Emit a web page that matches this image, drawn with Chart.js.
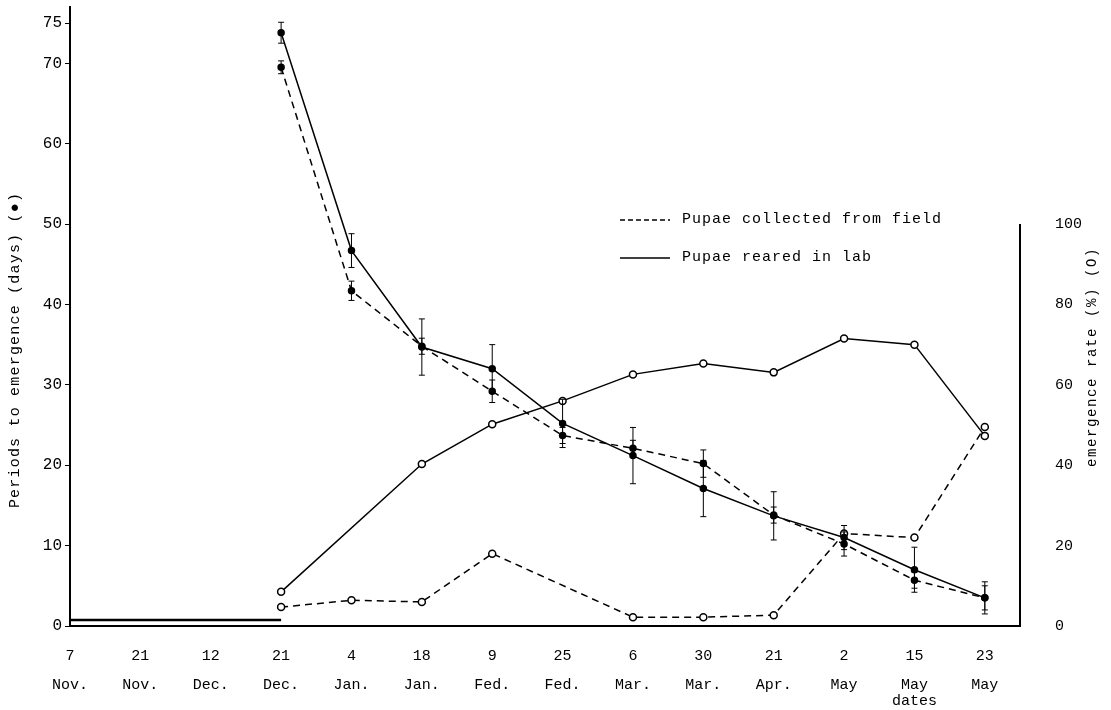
<!DOCTYPE html>
<html lang="en">
<head>
<meta charset="UTF-8">
<title>Periods to emergence</title>
<script src="https://cdn.jsdelivr.net/npm/chart.js"></script>
<style>
  html, body { margin: 0; padding: 0; background: #fff; }
  #wrap { width: 1111px; height: 710px; }
</style>
</head>
<body>
<div id="wrap"><canvas id="chart" width="1111" height="710"></canvas></div>
<script>
// x categories (sampling dates)
const dayLabels   = ['7', '21', '12', '21', '4', '18', '9', '25', '6', '30', '21', '2', '15', '23'];
const monthLabels = ['Nov.', 'Nov.', 'Dec.', 'Dec.', 'Jan.', 'Jan.', 'Fed.', 'Fed.', 'Mar.', 'Mar.', 'Apr.', 'May', 'May', 'May'];

// periods to emergence (days), left axis
const periodField    = [null, null, null, 69.5, 41.7, 34.8, 29.2, 23.7, 22.1, 20.2, 13.8, 10.2, 5.7, 3.5];
const periodFieldErr = [null, null, null, 0.8, 1.2, 1.0, 1.4, 1.0, 1.0, 1.7, 1.0, 1.5, 1.0, 1.5];
const periodLab      = [null, null, null, 73.8, 46.7, 34.7, 32.0, 25.2, 21.2, 17.1, 13.7, 11.0, 7.0, 3.5];
const periodLabErr   = [null, null, null, 1.3, 2.1, 3.5, 3.0, 3.0, 3.5, 3.5, 3.0, 1.5, 2.8, 2.0];

// emergence rate (%), right axis
const rateField = [null, null, null, 4.7, 6.4, 6.0, 18.0, null, 2.2, 2.2, 2.7, 23.0, 22.0, 49.5];
const rateLab   = [null, null, null, 8.5, null, 40.3, 50.2, 56.0, 62.6, 65.3, 63.1, 71.5, 70.0, 47.3];
const rateNone  = [1.5, 1.5, 1.5, 1.5, null, null, null, null, null, null, null, null, null, null];

const leftTicks  = [0, 10, 20, 30, 40, 50, 60, 70, 75];
const rightTicks = [0, 20, 40, 60, 80, 100];

const FONT = '"Liberation Mono", "DejaVu Sans Mono", monospace';
const pts = arr => arr.map((v, i) => ({ x: i, y: v }));

function drawVertical(ctx, text, cx, cy, spacing) {
  ctx.save();
  ctx.translate(cx, cy);
  ctx.rotate(-Math.PI / 2);
  ctx.letterSpacing = spacing;
  ctx.textAlign = 'center';
  ctx.textBaseline = 'middle';
  ctx.fillText(text, 0, 0);
  ctx.restore();
}

const extras = {
  id: 'extras',
  afterDatasetsDraw(chart) {
    const ctx = chart.ctx;
    const x = chart.scales.x, y = chart.scales.y, y2 = chart.scales.y2;
    ctx.save();
    ctx.strokeStyle = '#000';
    ctx.fillStyle = '#000';
    ctx.lineWidth = 1;
    ctx.setLineDash([]);
    // error bars
    [[periodField, periodFieldErr], [periodLab, periodLabErr]].forEach(([vals, errs]) => {
      vals.forEach((v, i) => {
        if (v == null || errs[i] == null) return;
        const px = x.getPixelForValue(i);
        const top = y.getPixelForValue(v + errs[i]);
        const bot = y.getPixelForValue(v - errs[i]);
        ctx.beginPath();
        ctx.moveTo(px, top); ctx.lineTo(px, bot);
        ctx.moveTo(px - 3, top); ctx.lineTo(px + 3, top);
        ctx.moveTo(px - 3, bot); ctx.lineTo(px + 3, bot);
        ctx.stroke();
      });
    });
    // right axis line, 0..100 %
    ctx.lineWidth = 2;
    const rx = chart.chartArea.right;
    ctx.beginPath();
    ctx.moveTo(rx, y2.getPixelForValue(0) + 1);
    ctx.lineTo(rx, y2.getPixelForValue(100));
    ctx.stroke();

    // legend
    ctx.font = '15px ' + FONT;
    ctx.letterSpacing = '1px';
    ctx.textBaseline = 'middle';
    ctx.lineWidth = 1.5;
    ctx.setLineDash([5, 3]);
    ctx.beginPath(); ctx.moveTo(620, 220); ctx.lineTo(670, 220); ctx.stroke();
    ctx.setLineDash([]);
    ctx.beginPath(); ctx.moveTo(620, 258); ctx.lineTo(670, 258); ctx.stroke();
    ctx.fillText('Pupae collected from field', 682, 219);
    ctx.fillText('Pupae reared in lab', 682, 257);

    // x axis caption under "15 May"
    ctx.textAlign = 'center';
    ctx.letterSpacing = '0px';
    ctx.fillText('dates', x.getPixelForValue(12), 701);

    // axis titles, both reading bottom to top
    ctx.font = '15px ' + FONT;
    drawVertical(ctx, 'Periods to emergence (days) (\u25CF)', 15, 350, '1.2px');
    ctx.font = '14px ' + FONT;
    drawVertical(ctx, 'emergence rate (%) (O)', 1092, 357, '1.6px');
    ctx.restore();
  }
};

const lineBase = {
  borderColor: '#000',
  borderWidth: 1.5,
  pointBorderColor: '#000',
  tension: 0,
  spanGaps: true
};

new Chart(document.getElementById('chart'), {
  type: 'line',
  data: {
    datasets: [
      Object.assign({}, lineBase, {
        label: 'Pupae collected from field',
        data: pts(periodField), yAxisID: 'y',
        borderDash: [7, 5],
        pointRadius: 3, pointBackgroundColor: '#000'
      }),
      Object.assign({}, lineBase, {
        label: 'Pupae reared in lab',
        data: pts(periodLab), yAxisID: 'y',
        pointRadius: 3, pointBackgroundColor: '#000'
      }),
      Object.assign({}, lineBase, {
        label: 'Emergence rate, field',
        data: pts(rateField), yAxisID: 'y2',
        borderDash: [7, 5],
        pointRadius: 3.5, pointBackgroundColor: '#fff', pointBorderWidth: 1.5
      }),
      Object.assign({}, lineBase, {
        label: 'Emergence rate, lab',
        data: pts(rateLab), yAxisID: 'y2',
        pointRadius: 3.5, pointBackgroundColor: '#fff', pointBorderWidth: 1.5
      }),
      Object.assign({}, lineBase, {
        label: 'No emergence',
        data: pts(rateNone), yAxisID: 'y2',
        borderWidth: 2.5, pointRadius: 0, spanGaps: false
      })
    ]
  },
  options: {
    responsive: false,
    animation: false,
    maintainAspectRatio: false,
    layout: { padding: { top: 7 } },
    plugins: {
      legend: { display: false },
      tooltip: { enabled: false }
    },
    scales: {
      x: {
        type: 'linear',
        min: 0,
        max: 13.5,
        afterFit(s) { s.height = 84; s.paddingLeft = 0; s.paddingRight = 0; },
        afterBuildTicks(s) { s.ticks = dayLabels.map((_, i) => ({ value: i })); },
        ticks: {
          autoSkip: false,
          maxRotation: 0,
          padding: 8,
          color: '#000',
          font: { family: FONT, size: 15, lineHeight: 1.9 },
          callback: v => [dayLabels[v], monthLabels[v]]
        },
        grid: { display: false },
        border: { display: true, color: '#000', width: 2 }
      },
      y: {
        position: 'left',
        min: 0,
        max: 77,
        afterFit(s) { s.width = 70; s.paddingTop = 0; s.paddingBottom = 0; },
        afterBuildTicks(s) { s.ticks = leftTicks.map(v => ({ value: v })); },
        ticks: { color: '#000', padding: 3, font: { family: FONT, size: 16 } },
        grid: { display: true, drawOnChartArea: false, tickLength: 5, color: '#000' },
        border: { display: true, color: '#000', width: 2 }
      },
      y2: {
        position: 'right',
        min: 0,
        max: 154,
        afterFit(s) { s.width = 91; s.paddingTop = 0; s.paddingBottom = 0; },
        afterBuildTicks(s) { s.ticks = rightTicks.map(v => ({ value: v })); },
        ticks: { color: '#000', padding: 27, font: { family: FONT, size: 15 } },
        grid: { display: false },
        border: { display: false }
      }
    }
  },
  plugins: [extras]
});
</script>
</body>
</html>
